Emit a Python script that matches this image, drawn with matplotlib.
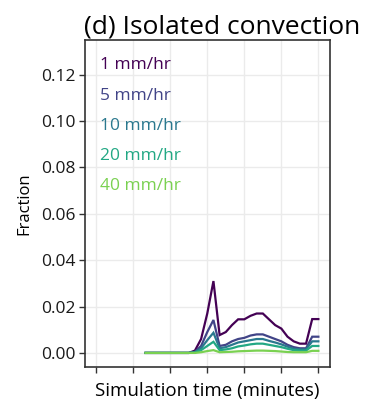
import matplotlib
matplotlib.use("Agg")
import matplotlib.pyplot as plt
import numpy as np

plt.rcParams['font.family'] = ['Open Sans', 'DejaVu Sans']

times = [80, 90, 100, 110, 120, 130, 140, 150, 160, 170, 180, 190, 200, 210, 220,
         230, 240, 250, 260, 270, 280, 290, 300, 310, 320, 330, 340, 350, 360]

labels = ["1 mm/hr", "5 mm/hr", "10 mm/hr", "20 mm/hr", "40 mm/hr"]
colors = ["#440154", "#414487", "#2A788E", "#22A884", "#7AD151"]

r1 = [0, 0, 0, 0, 0, 0, 0, 0, 0.001, 0.006, 0.017, 0.031, 0.0077, 0.009, 0.012,
      0.0145, 0.0145, 0.016, 0.017, 0.017, 0.0145, 0.012, 0.0105, 0.007, 0.005,
      0.004, 0.004, 0.0146, 0.0146]
r5 = [0, 0, 0, 0, 0, 0, 0, 0, 0.0005, 0.003, 0.009, 0.0142, 0.003, 0.0035, 0.005,
      0.006, 0.0065, 0.0075, 0.008, 0.008, 0.007, 0.006, 0.005, 0.0035, 0.0025,
      0.002, 0.002, 0.007, 0.007]
r10 = [0, 0, 0, 0, 0, 0, 0, 0, 0.0003, 0.002, 0.0055, 0.0087, 0.002, 0.0025, 0.0035,
       0.0045, 0.005, 0.0055, 0.006, 0.006, 0.0052, 0.0045, 0.0037, 0.0027, 0.0018,
       0.0015, 0.0015, 0.005, 0.005]
r20 = [0, 0, 0, 0, 0, 0, 0, 0, 0.0002, 0.0012, 0.003, 0.0048, 0.0012, 0.0015, 0.002,
       0.0028, 0.0032, 0.0037, 0.004, 0.004, 0.0035, 0.003, 0.0025, 0.0018, 0.0012,
       0.001, 0.001, 0.003, 0.003]
r40 = [0, 0, 0, 0, 0, 0, 0, 0, 0, 0.0003, 0.0008, 0.0012, 0.0003, 0.0004, 0.0005,
       0.0007, 0.0008, 0.0009, 0.001, 0.001, 0.0009, 0.0008, 0.0006, 0.0004, 0.0003,
       0.0003, 0.0003, 0.0009, 0.0009]
series = [r1, r5, r10, r20, r40]

xticks = [0, 60, 120, 180, 240, 300, 360]
yticks = [0.00, 0.02, 0.04, 0.06, 0.08, 0.10, 0.12]

fig = plt.figure(figsize=(3.73, 4.04), dpi=100)
ax = fig.add_axes([0.228, 0.092, 0.657, 0.809])

for s, c in zip(series, colors):
    ax.plot(times, s, color=c, lw=1.6, solid_joinstyle='miter')

ax.set_xlim(-18, 379)
ax.set_ylim(-0.006, 0.135)
ax.set_xticks(xticks)
ax.set_xticklabels([])
ax.set_yticks(yticks)
ax.set_yticklabels([f"{v:.2f}" for v in yticks], fontsize=12.5, color='#1a1a1a')
ax.grid(True, color='#ebebeb', lw=1.0)
ax.set_axisbelow(True)
for sp in ax.spines.values():
    sp.set_color('#333333')
    sp.set_linewidth(1.2)
ax.tick_params(direction='out', length=4, width=1.0, color='#333333', pad=3)

for i, (lab, c) in enumerate(zip(labels, colors)):
    ax.text(0.06, 0.922 - i * 0.092, lab, color=c, fontsize=12.5,
            transform=ax.transAxes, ha='left', va='center')

ax.set_title("(d) Isolated convection", fontsize=19, loc='left', x=-0.005, pad=5)
ax.set_xlabel("Simulation time (minutes)", fontsize=13.5, labelpad=4)
ax.set_ylabel("Fraction", fontsize=12, labelpad=6)

fig.savefig("out.png", dpi=100)
